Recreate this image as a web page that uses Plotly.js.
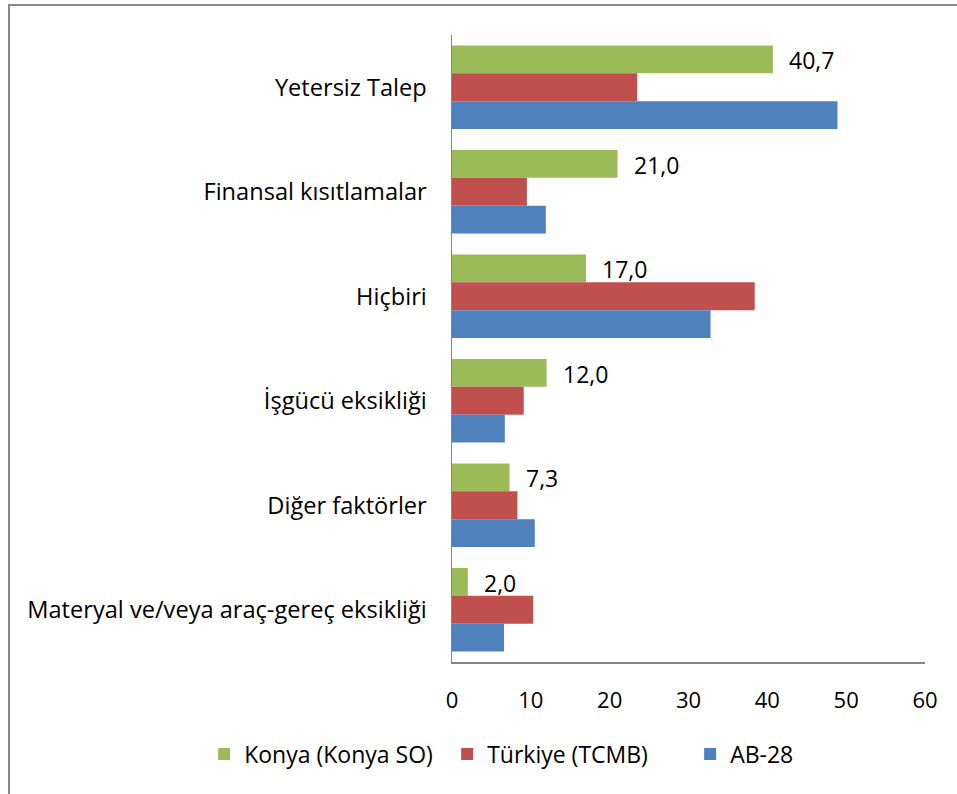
<!DOCTYPE html>
<html>
<head>
<meta charset="utf-8">
<script src="https://cdn.plot.ly/plotly-3.0.1.min.js"></script>
<style>
  html, body { margin: 0; padding: 0; background: #fff; }
  #frame { position: absolute; left: 8px; top: 4px; width: 960px; height: 788px;
           border-left: 2px solid #888; border-top: 2px solid #888; border-bottom: 1px solid #ccc; }
  #chart { position: absolute; left: 0; top: 0; width: 957px; height: 794px; }
</style>
</head>
<body>
<div id="frame"></div>
<div id="chart"></div>
<script>
const categories = ["Yetersiz Talep", "Finansal kısıtlamalar", "Hiçbiri", "İşgücü eksikliği", "Diğer faktörler", "Materyal ve/veya araç-gereç eksikliği"];
const konya = [40.7, 21.0, 17.0, 12.0, 7.3, 2.0];
const turkiye = [23.5, 9.5, 38.4, 9.1, 8.3, 10.3];
const ab28 = [48.9, 11.9, 32.8, 6.7, 10.5, 6.6];
const seriesNames = ["Konya (Konya SO)", "Türkiye (TCMB)", "AB-28"];
const colors = ["#9BBB59", "#C0504D", "#4F81BD"];
const xTicks = [0, 10, 20, 30, 40, 50, 60];

const FONT = "'Open Sans', sans-serif";
const FS = 23;
const series = [konya, turkiye, ab28];
const traces = series.map((vals, i) => ({
  type: "bar",
  orientation: "h",
  name: seriesNames[i],
  x: vals,
  y: categories,
  marker: { color: colors[i], line: { width: 0 } },
  hoverinfo: "x+y"
}));

const annotations = konya.map((v, i) => ({
  x: v, y: categories[i], xref: "x", yref: "y",
  text: v.toFixed(1).replace(".", ","),
  showarrow: false, xanchor: "left", yanchor: "middle",
  xshift: 14, yshift: 27,
  font: { family: FONT, size: FS, color: "#000" }
}));

const layout = {
  width: 957, height: 794,
  margin: { l: 452, r: 32, t: 35, b: 132, autoexpand: false },
  paper_bgcolor: "rgba(0,0,0,0)",
  plot_bgcolor: "rgba(0,0,0,0)",
  barmode: "group",
  bargap: 0.2,
  bargroupgap: 0,
  font: { family: FONT, size: FS, color: "#000" },
  xaxis: {
    range: [0, 60], tickvals: xTicks, ticktext: xTicks.map(String),
    showgrid: false, zeroline: false,
    showline: true, linecolor: "#868686", linewidth: 1.5,
    ticks: "", ticklabelstandoff: 18,
    tickfont: { family: FONT, size: 22, color: "#000" }, fixedrange: true
  },
  yaxis: {
    type: "category", autorange: "reversed",
    showgrid: false, zeroline: false,
    showline: true, linecolor: "#868686", linewidth: 1.5,
    ticks: "", ticklabelstandoff: 19,
    tickfont: { family: FONT, size: 23.6, color: "#000" }, fixedrange: true
  },
  showlegend: true,
  legend: {
    orientation: "h", xref: "paper", x: -0.524, xanchor: "left",
    yref: "paper", y: -0.1124, yanchor: "top",
    font: { family: FONT, size: FS, color: "#000" },
    traceorder: "normal", itemwidth: 30,
    entrywidth: 198, entrywidthmode: "pixels"
  },
  annotations: annotations
};

Plotly.newPlot("chart", traces, layout, { displayModeBar: false, staticPlot: true });
</script>
</body>
</html>
